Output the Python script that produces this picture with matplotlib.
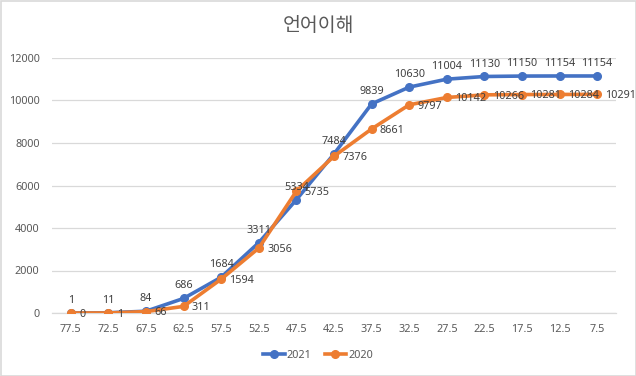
import numpy as np
import matplotlib
matplotlib.use("Agg")
import matplotlib.pyplot as plt
from matplotlib.patches import Rectangle

plt.rcParams['font.family'] = ['Noto Sans', 'Noto Sans CJK KR', 'DejaVu Sans']

# data
categories = ['77.5', '72.5', '67.5', '62.5', '57.5', '52.5', '47.5', '42.5',
              '37.5', '32.5', '27.5', '22.5', '17.5', '12.5', '7.5']
y2021 = [1, 11, 84, 686, 1684, 3311, 5334, 7484, 9839, 10630, 11004,
         11130, 11150, 11154, 11154]
y2020 = [0, 1, 66, 311, 1594, 3056, 5735, 7376, 8661, 9797, 10142,
         10266, 10281, 10284, 10291]
title = '언어이해'

blue = '#4472C4'
orange = '#ED7D31'
txt = '#595959'
lbl = '#404040'
grid = '#D9D9D9'
fs = 7.8

fig = plt.figure(figsize=(6.36, 3.76), dpi=100)
ax = fig.add_axes([52/636, 1 - 313/376, 564/636, 255/376])

x = np.arange(len(categories))
ax.plot(x, y2021, color=blue, lw=2.6, marker='o', ms=5.5, label='2021', zorder=3)
ax.plot(x, y2020, color=orange, lw=2.6, marker='o', ms=5.5, label='2020', zorder=4)

#labels: 2021 above, 2020 right
for xi, v in zip(x, y2021):
    ax.annotate(str(v), (xi, v), xytext=(0, 5), textcoords='offset points',
                ha='center', va='bottom', fontsize=fs, color=lbl, zorder=6)
for xi, v in zip(x, y2020):
    ax.annotate(str(v), (xi, v), xytext=(6, -1), textcoords='offset points',
                ha='left', va='center', fontsize=fs, color=lbl, zorder=6,
                annotation_clip=False)

ax.set_xlim(-0.5, len(categories) - 0.5)
ax.set_ylim(0, 12000)
ax.set_yticks(np.arange(0, 12001, 2000))
ax.set_xticks(x)
ax.set_xticklabels(categories)
ax.tick_params(length=0, labelsize=fs, labelcolor=txt)
ax.tick_params(axis='y', pad=9)
ax.tick_params(axis='x', pad=8)
ax.grid(axis='y', color=grid, lw=0.9)
ax.set_axisbelow(True)
for s in ['top', 'right', 'left']:
    ax.spines[s].set_visible(False)
ax.spines['bottom'].set_color(grid)
ax.spines['bottom'].set_linewidth(0.9)

fig.text(0.5, 1 - 26/376, title, ha='center', va='center', fontsize=14, color=txt)

handles, labels = ax.get_legend_handles_labels()
fig.legend(handles, labels, loc='center', bbox_to_anchor=(0.5, 1 - 355/376), ncol=2,
           frameon=False, fontsize=fs, labelcolor=txt, handlelength=2.0,
           columnspacing=1.2, handletextpad=0.2)

fig.patches.append(Rectangle((0.5/636, 0.5/376), 1 - 1/636, 1 - 1/376,
                             transform=fig.transFigure, fill=False,
                             edgecolor=grid, lw=1.2))

fig.savefig('out.png', dpi=100)
